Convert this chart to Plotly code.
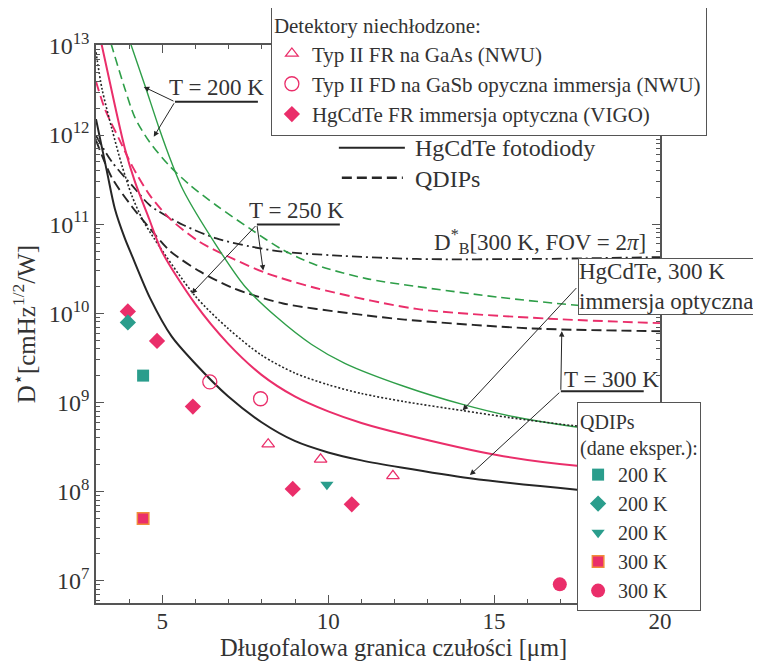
import plotly.graph_objects as go

# ---------------- data ----------------
# HgCdTe photodiodes, theoretical curves
x_hg300 = [3.0, 3.33, 3.57, 3.87, 4.08, 4.63, 5.28, 5.98, 6.98, 7.99, 8.99, 10.0, 11.0, 12.2, 14.27, 17.5, 20.0]
d_hg300 = [1.51e12, 3.89e11, 1.48e11, 6.92e10, 4.47e10, 1.48e10, 5.5e9, 2.75e9, 1.17e9, 6.0e8, 3.7e8,
           2.75e8, 2.24e8, 1.86e8, 1.41e8, 1.05e8, 8.9e7]
x_hg250 = [3.15, 3.57, 3.87, 4.17, 4.6, 4.99, 5.98, 6.98, 7.99, 8.99, 10.0, 11.0, 12.3, 15.08, 17.5, 20.0]
d_hg250 = [1.12e13, 2.14e12, 7.08e11, 3.02e11, 1.15e11, 4.9e10, 1.29e10, 4.57e9, 2.04e9, 1.17e9, 7.94e8,
           5.89e8, 4.37e8, 2.57e8, 1.95e8, 1.74e8]
x_hg200 = [4.04, 4.48, 4.9, 5.29, 5.63, 6.63, 7.49, 8.47, 9.5, 10.5, 12.3, 14.05, 15.6, 17.37, 20.0]
d_hg200 = [1.07e13, 3.55e12, 1.2e12, 4.79e11, 2.4e11, 5.75e10, 2.0e10, 8.9e9, 4.47e9, 2.75e9, 1.51e9,
           9.5e8, 6.9e8, 5.37e8, 4.1e8]
x_hgimm = [3.0, 3.18, 3.48, 3.78, 4.08, 4.39, 4.75, 5.98, 6.98, 7.99, 8.99, 10.0, 11.0, 12.3, 14.05, 15.47, 17.37, 20.0]
d_hgimm = [8.5e12, 3.31e12, 1.17e12, 4.57e11, 2.09e11, 1.15e11, 6.92e10, 1.58e10, 6.76e9, 3.39e9, 2.14e9,
           1.58e9, 1.26e9, 1.02e9, 8.1e8, 6.76e8, 5.5e8, 4.37e8]
# QDIP theoretical curves
x_qd300 = [3.0, 3.48, 4.08, 4.63, 5.23, 6.13, 7.14, 8.64, 10.65, 12.3, 16.16, 20.0]
d_qd300 = [8.7e11, 3.31e11, 1.58e11, 8.9e10, 5.0e10, 2.95e10, 1.91e10, 1.29e10, 1.0e10, 8.5e9, 6.76e9, 6.3e9]
x_qd250 = [3.0, 3.27, 3.69, 4.08, 4.63, 5.23, 6.13, 7.14, 8.14, 9.65, 12.66, 16.67, 20.0]
d_qd250 = [3.98e12, 1.95e12, 9.1e11, 4.57e11, 2.09e11, 1.15e11, 6.3e10, 4.07e10, 2.82e10, 1.91e10, 1.12e10,
           8.7e9, 7.76e9]
x_qd200 = [3.45, 3.87, 4.17, 4.6, 5.2, 5.83, 6.63, 7.64, 8.64, 9.65, 11.15, 12.66, 15.17, 17.5, 20.0]
d_qd200 = [1.07e13, 3.31e12, 1.58e12, 8.5e11, 4.57e11, 2.75e11, 1.62e11, 8.9e10, 5.13e10, 3.47e10, 2.45e10,
           2.0e10, 1.51e10, 1.23e10, 1.07e10]
# background limit D*_B (300 K, FOV = 2pi)
x_blip = [3.0, 3.48, 4.17, 4.63, 5.63, 6.63, 7.64, 8.64, 10.15, 12.66, 16.16, 20.0]
d_blip = [9.8e11, 5.0e11, 2.51e11, 1.62e11, 9.8e10, 6.92e10, 5.62e10, 4.9e10, 4.47e10, 4.07e10, 4.07e10, 4.27e10]

# experimental points - uncooled detectors
x_t2_gaas = [8.19, 9.77, 11.95]
d_t2_gaas = [3.4e8, 2.3e8, 1.5e8]
x_t2_gasb = [6.43, 7.96]
d_t2_gasb = [1.7e9, 1.1e9]
x_vigo = [3.96, 4.84, 5.92, 8.93, 10.71]
d_vigo = [1.05e10, 4.9e9, 9.0e8, 1.07e8, 7.2e7]
# experimental points - QDIPs
x_q200_sq, d_q200_sq = [4.42], [2.0e9]
x_q200_di, d_q200_di = [3.96], [7.9e9]
x_q200_tr, d_q200_tr = [9.96], [1.2e8]
x_q300_sq, d_q300_sq = [4.42], [5.0e7]
x_q300_ci, d_q300_ci = [16.98], [9.1e6]

x_ticks = [5, 10, 15, 20]
y_exponents = [7, 8, 9, 10, 11, 12, 13]

# ---------------- style ----------------
FONT = "Liberation Serif, Times New Roman, serif"
TXT = "#333333"
AX = "#555555"
BLACK = "#262626"
MAG = "#EA2E6A"
TEAL = "#2A9D8C"
GREEN = "#2E9E48"
XR = [3.0, 20.0]
YR = [6.75, 13.01]


def px(lam):
    return (lam - XR[0]) / (XR[1] - XR[0])


def py(lg):
    return (lg - YR[0]) / (YR[1] - YR[0])


fig = go.Figure()


def curve(x, y, color, width, dash):
    fig.add_trace(go.Scatter(x=x, y=y, mode="lines", showlegend=False, hoverinfo="skip",
                             line=dict(color=color, width=width, dash=dash, shape="spline", smoothing=0.8)))


curve(x_blip, d_blip, BLACK, 1.8, "10px,4px,2px,4px")
curve(x_qd200, d_qd200, GREEN, 1.6, "9px,5px")
curve(x_qd250, d_qd250, MAG, 1.9, "10px,5px")
curve(x_qd300, d_qd300, BLACK, 1.9, "10px,5px")
curve(x_hg200, d_hg200, GREEN, 1.4, "solid")
curve(x_hgimm, d_hgimm, BLACK, 1.6, "2px,2px")
curve(x_hg250, d_hg250, MAG, 2.0, "solid")
curve(x_hg300, d_hg300, BLACK, 2.0, "solid")

# legend 1 : uncooled detectors
fig.add_trace(go.Scatter(x=x_t2_gaas, y=d_t2_gaas, mode="markers", name="Typ II FR na GaAs (NWU)",
                         marker=dict(symbol="triangle-up-open", size=11, color=MAG, line=dict(width=1.3)),
                         legend="legend"))
fig.add_trace(go.Scatter(x=x_t2_gasb, y=d_t2_gasb, mode="markers",
                         name="Typ II FD na GaSb opyczna immersja (NWU)",
                         marker=dict(symbol="circle-open", size=14, color=MAG, line=dict(width=1.3)),
                         legend="legend"))
fig.add_trace(go.Scatter(x=x_vigo, y=d_vigo, mode="markers", name="HgCdTe FR immersja optyczna (VIGO)",
                         marker=dict(symbol="diamond", size=12.5, color=MAG), legend="legend"))
# legend 2 : QDIP experimental
fig.add_trace(go.Scatter(x=x_q200_sq, y=d_q200_sq, mode="markers", name="200 K",
                         marker=dict(symbol="square", size=12, color=TEAL), legend="legend2"))
fig.add_trace(go.Scatter(x=x_q200_di, y=d_q200_di, mode="markers", name="200 K",
                         marker=dict(symbol="diamond", size=12.5, color=TEAL), legend="legend2"))
fig.add_trace(go.Scatter(x=x_q200_tr, y=d_q200_tr, mode="markers", name="200 K",
                         marker=dict(symbol="triangle-down", size=11.5, color=TEAL), legend="legend2"))
fig.add_trace(go.Scatter(x=x_q300_sq, y=d_q300_sq, mode="markers", name="300 K",
                         marker=dict(symbol="square", size=11.5, color=MAG,
                                     line=dict(color="#F08C3A", width=1.5)), legend="legend2"))
fig.add_trace(go.Scatter(x=x_q300_ci, y=d_q300_ci, mode="markers", name="300 K",
                         marker=dict(symbol="circle", size=14, color=MAG), legend="legend2"))

tfont = dict(family=FONT, size=23, color=TXT)
lfont = dict(family=FONT, size=21, color=TXT)
l2font = dict(family=FONT, size=20, color=TXT)

ann = []
shapes = []


def label_T(text, cx, cy, ux0, ux1, uy, heads):
    ann.append(dict(x=cx, y=cy, xref="x", yref="y", text=text, showarrow=False, font=tfont,
                    xanchor="center", yanchor="middle"))
    shapes.append(dict(type="line", xref="paper", yref="paper", x0=px(ux0), x1=px(ux1), y0=py(uy), y1=py(uy),
                       line=dict(color=BLACK, width=2)))
    for hx, hy in heads:
        ann.append(dict(x=hx, y=hy, ax=ux0, ay=uy, xref="x", yref="y", axref="x", ayref="y", text="",
                        showarrow=True, arrowhead=2, arrowsize=1.1, arrowwidth=1, arrowcolor=BLACK))


label_T("T = 200 K", 6.64, 12.53, 5.38, 7.88, 12.373, [(4.44, 12.54), (4.74, 11.98)])
label_T("T = 250 K", 9.05, 11.15, 7.85, 10.35, 10.996, [(5.88, 10.22), (8.04, 10.48)])
label_T("T = 300 K", 18.54, 9.26, 17.01, 19.51, 9.125, [(17.04, 9.80), (14.27, 8.185)])

# D*_B label
ann.append(dict(x=19.63, y=10.805, xref="x", yref="y", xanchor="right", yanchor="middle", showarrow=False,
                text="D<sup>*</sup><sub>B</sub>[300 K, FOV = 2<i>π</i>]", font=tfont))
# HgCdTe immersion box + arrow
ann.append(dict(x=14.05, y=8.91, ax=17.52, ay=10.30, xref="x", yref="y", axref="x", ayref="y", text="",
                showarrow=True, arrowhead=2, arrowsize=1.1, arrowwidth=1, arrowcolor=BLACK))
ann.append(dict(x=17.52, y=10.30, xref="x", yref="y", xanchor="left", yanchor="middle", showarrow=False,
                text="HgCdTe, 300 K<br>immersja optyczna", align="left",
                font=dict(family=FONT, size=23, color=TXT),
                bgcolor="white", bordercolor=AX, borderwidth=1, borderpad=0))
# line-style legend
shapes.append(dict(type="line", xref="paper", yref="paper", x0=px(10.32), x1=px(12.31), y0=py(11.858),
                   y1=py(11.858), line=dict(color=BLACK, width=2)))
shapes.append(dict(type="line", xref="paper", yref="paper", x0=px(10.41), x1=px(12.25), y0=py(11.52),
                   y1=py(11.52), line=dict(color=BLACK, width=2.5, dash="10px,5px")))
ann.append(dict(x=12.55, y=11.85, xref="x", yref="y", xanchor="left", yanchor="middle", showarrow=False,
                text="HgCdTe fotodiody", font=dict(family=FONT, size=24, color=TXT)))
ann.append(dict(x=12.55, y=11.51, xref="x", yref="y", xanchor="left", yanchor="middle", showarrow=False,
                text="QDIPs", font=dict(family=FONT, size=24, color=TXT)))
# x-axis title (slightly right of the plot centre, as in the reference)
ann.append(dict(x=0.528, y=-0.0806, xref="paper", yref="paper", xanchor="center", yanchor="middle",
                showarrow=False, text="Długofalowa granica czułości [μm]",
                font=dict(family=FONT, size=24.5, color=TXT)))

y_minor = [k * 10 ** n for n in range(6, 13) for k in range(2, 10)]
x_minor = [v for v in range(4, 20) if v not in x_ticks]
y_tickvals = [10 ** e for e in y_exponents]
y_ticktext = ["10<sup>%d</sup>" % e for e in y_exponents]

# the page body has an 8 px margin, so the figure is 8 px smaller and shifted
fig.update_layout(
    width=753, height=655,
    margin=dict(l=88, r=101, t=37, b=60, autoexpand=False),
    paper_bgcolor="white", plot_bgcolor="white",
    font=dict(family=FONT, size=21, color=TXT),
    annotations=ann, shapes=shapes,
    legend=dict(x=px(3 + (271 - 96) / 33.2), y=1.0717, xanchor="left", yanchor="top", bgcolor="white",
                bordercolor=AX, borderwidth=1, font=lfont, tracegroupgap=0,
                title=dict(text="Detektory niechłodzone:", font=lfont)),
    legend2=dict(x=0.853, y=0.360, xanchor="left", yanchor="top", bgcolor="white",
                 bordercolor=AX, borderwidth=1, font=l2font, tracegroupgap=0,
                 title=dict(text="QDIPs<br>(dane eksper.):", font=l2font)),
    xaxis=dict(range=XR, tickvals=x_ticks, ticks="inside", ticklen=8, tickwidth=1.2, tickcolor=AX,
               showline=True, linecolor=AX, linewidth=1.5, mirror="allticks", showgrid=False, zeroline=False,
               automargin=False, tickfont=dict(family=FONT, size=23, color=TXT), ticklabelstandoff=-3,
               minor=dict(tickmode="array", tickvals=x_minor, ticks="inside", ticklen=4, tickcolor=AX,
                          showgrid=False)),
    yaxis=dict(type="log", range=YR, tickmode="array", tickvals=y_tickvals, ticktext=y_ticktext,
               ticks="inside", ticklen=8, automargin=False,
               tickwidth=1.2, tickcolor=AX, showline=True, linecolor=AX, linewidth=1.5, mirror="allticks",
               showgrid=False, zeroline=False, tickfont=dict(family=FONT, size=24, color=TXT),
               minor=dict(tickmode="array", tickvals=y_minor, ticks="inside", ticklen=4, tickcolor=AX,
                          showgrid=False),
               title=dict(text="D<sup>⋆</sup>[cmHz<sup>1/2</sup>/W]", font=dict(family=FONT, size=25, color=TXT),
                          standoff=13)),
)

fig.write_html("out.html")
